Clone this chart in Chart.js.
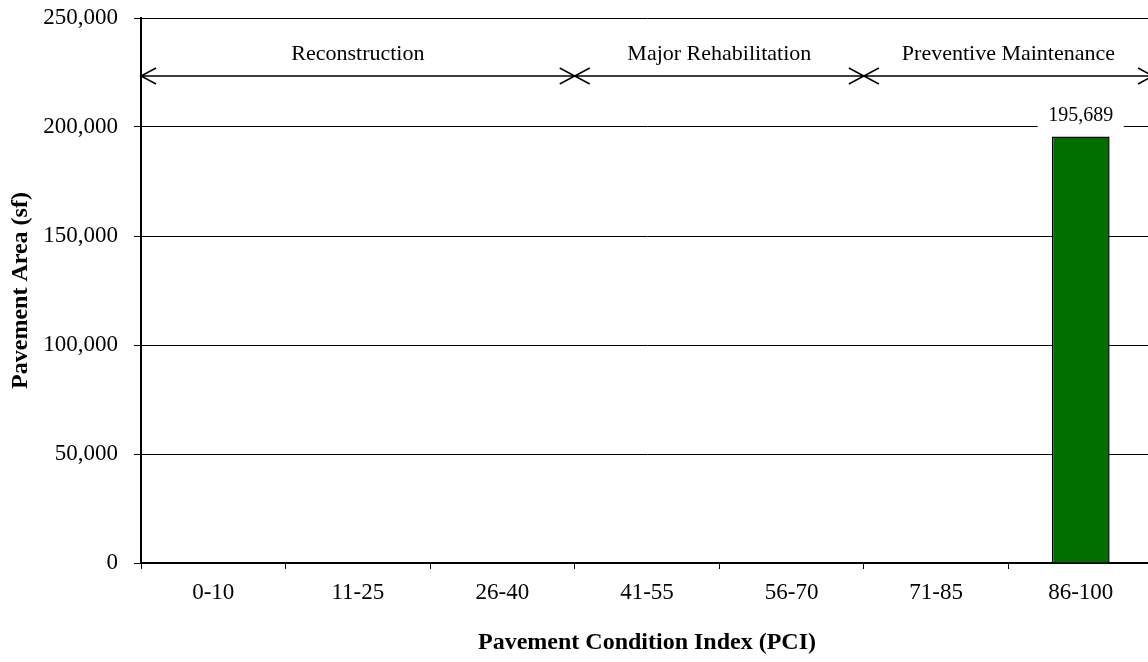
<!DOCTYPE html>
<html>
<head>
<meta charset="utf-8">
<script src="https://cdn.jsdelivr.net/npm/chart.js@4.4.1/dist/chart.umd.min.js"></script>
<style>
  html, body { margin: 0; padding: 0; background: #fff; overflow: hidden; }
  #wrap { position: relative; width: 1153px; height: 662px; }
</style>
</head>
<body>
<div id="wrap"><canvas id="c"></canvas></div>
<script>
// PCI ranges and pavement area per range (square feet)
const pciRanges = ['0-10', '11-25', '26-40', '41-55', '56-70', '71-85', '86-100'];
const pavementArea = [0, 0, 0, 0, 0, 0, 195689];

// y axis range
const yMin = 0;
const yMax = 250000;
const yStep = 50000;

// treatment bands spanning the PCI ranges (first and last category index)
const treatmentBands = ['Reconstruction', 'Major Rehabilitation', 'Preventive Maintenance'];
const bandStart = [0, 3, 5];
const bandEnd = [2, 4, 6];

const SERIF = '"Liberation Serif", "Times New Roman", serif';
const fmt = v => Number(v).toLocaleString('en-US');

// double-headed arrows with band names above the plot
const bandArrows = {
  id: 'bandArrows',
  afterDatasetsDraw(chart) {
    const { ctx, chartArea, scales: { x } } = chart;
    const half = (x.getPixelForValue(1) - x.getPixelForValue(0)) / 2;
    const y = chartArea.top + 58;
    ctx.save();
    ctx.strokeStyle = '#000';
    ctx.lineWidth = 1.5;
    ctx.fillStyle = '#000';
    ctx.font = '22px ' + SERIF;
    ctx.textAlign = 'center';
    ctx.textBaseline = 'middle';
    treatmentBands.forEach((name, i) => {
      const x0 = x.getPixelForValue(bandStart[i]) - half;
      const x1 = x.getPixelForValue(bandEnd[i]) + half;
      ctx.beginPath();
      ctx.moveTo(x0, y); ctx.lineTo(x1, y);
      // open arrowheads at both ends
      ctx.moveTo(x0 + 15, y - 8); ctx.lineTo(x0, y); ctx.lineTo(x0 + 15, y + 8);
      ctx.moveTo(x1 - 15, y - 8); ctx.lineTo(x1, y); ctx.lineTo(x1 - 15, y + 8);
      ctx.stroke();
      ctx.fillText(name, (x0 + x1) / 2, y - 22);
    });
    ctx.restore();
  }
};

// value labels above non-empty bars, on a white box
const valueLabels = {
  id: 'valueLabels',
  afterDatasetsDraw(chart) {
    const { ctx } = chart;
    const meta = chart.getDatasetMeta(0);
    ctx.save();
    ctx.font = '20px ' + SERIF;
    ctx.textAlign = 'center';
    ctx.textBaseline = 'middle';
    meta.data.forEach((bar, i) => {
      const v = pavementArea[i];
      if (!v) return;
      const cy = bar.y - 21;
      ctx.fillStyle = '#fff';
      ctx.fillRect(bar.x - 43, cy - 12, 86, 26);
      ctx.fillStyle = '#000';
      ctx.fillText(fmt(v), bar.x, cy);
    });
    ctx.restore();
  }
};

new Chart(document.getElementById('c'), {
  type: 'bar',
  data: {
    labels: pciRanges,
    datasets: [{
      data: pavementArea,
      backgroundColor: '#006f00',
      borderColor: '#000',
      borderWidth: ctx => (ctx.raw > 0 ? 1.5 : 0),
      borderSkipped: 'bottom',
      barPercentage: 0.4,
      categoryPercentage: 1.0
    }]
  },
  options: {
    responsive: true,
    maintainAspectRatio: false,
    animation: false,
    layout: { padding: { top: 18, right: 0, bottom: 0, left: 0 } },
    plugins: { legend: { display: false }, tooltip: { enabled: false } },
    scales: {
      x: {
        offset: true,
        grid: { display: true, drawOnChartArea: false, drawTicks: true, tickLength: 6, color: '#000', lineWidth: 1, offset: true },
        border: { display: true, color: '#000', width: 2 },
        ticks: { color: '#000', font: { family: SERIF, size: 23 }, padding: 10, maxRotation: 0 },
        title: { display: true, text: 'Pavement Condition Index (PCI)', color: '#000',
                 font: { family: SERIF, size: 24, weight: 'bold' }, padding: { top: 0, bottom: 5 } },
        afterFit(scale) { scale.height = 99; scale.paddingLeft = 0; scale.paddingRight = 0; }
      },
      y: {
        min: yMin, max: yMax,
        grid: { color: '#000', lineWidth: 1, tickLength: 7 },
        border: { display: true, color: '#000', width: 2 },
        ticks: { stepSize: yStep, color: '#000', font: { family: SERIF, size: 23 }, padding: 16,
                 callback: v => fmt(v) },
        title: { display: true, text: 'Pavement Area (sf)', color: '#000',
                 font: { family: SERIF, size: 24, weight: 'bold' }, padding: { top: 6, bottom: 0 } },
        afterFit(scale) { scale.width = 141; scale.paddingTop = 0; scale.paddingBottom = 0; }
      }
    }
  },
  plugins: [bandArrows, valueLabels]
});
</script>
</body>
</html>
